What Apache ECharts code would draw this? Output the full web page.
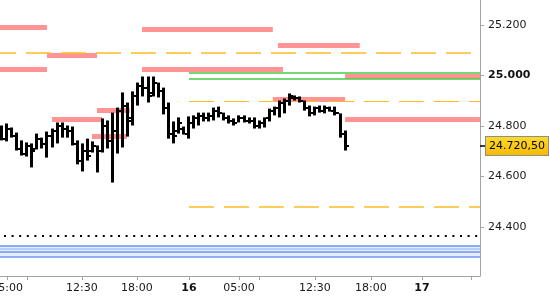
<!DOCTYPE html>
<html><head><meta charset="utf-8">
<script src="https://cdn.jsdelivr.net/npm/echarts@6/dist/echarts.min.js"></script>
<style>html,body{margin:0;padding:0;background:#fff}#c{width:550px;height:300px}</style>
</head><body><div id="c"></div>
<script>
// ---- data ----
const opens  = [24780,24750,24790,24760,24710,24690,24720,24710,24750,24730,24760,24780,24800,24790,24780,24730,24660,24700,24700,24720,24700,24800,24740,24780,24860,24880,24830,24920,24960,24950,24930,24970,24940,24870,24770,24780,24790,24770,24810,24830,24840,24830,24840,24860,24850,24830,24820,24810,24830,24820,24820,24800,24810,24830,24860,24870,24890,24900,24910,24910,24900,24870,24850,24870,24860,24870,24860,24850,24770];
const highs  = [24802,24810,24794,24774,24743,24735,24731,24770,24754,24778,24790,24814,24814,24802,24798,24743,24731,24750,24739,24723,24830,24822,24853,24873,24933,24893,24937,24972,24996,24996,24996,24972,24952,24893,24818,24834,24798,24838,24842,24853,24853,24853,24873,24877,24853,24842,24830,24842,24842,24834,24834,24822,24834,24869,24877,24901,24909,24929,24921,24917,24901,24881,24877,24881,24881,24877,24877,24850,24782];
const lows   = [24743,24739,24754,24703,24683,24679,24636,24707,24711,24675,24715,24731,24754,24754,24723,24648,24620,24663,24695,24616,24695,24711,24576,24691,24715,24758,24802,24881,24917,24893,24917,24913,24846,24750,24731,24770,24766,24750,24790,24802,24818,24818,24822,24834,24822,24810,24802,24814,24814,24810,24790,24790,24794,24818,24842,24834,24850,24881,24901,24893,24861,24838,24842,24853,24850,24857,24842,24754,24703];
const closes = [24750,24790,24760,24710,24690,24720,24700,24750,24730,24760,24780,24800,24790,24780,24730,24660,24700,24680,24720,24700,24800,24740,24780,24860,24880,24820,24920,24960,24950,24920,24970,24940,24870,24770,24760,24810,24770,24810,24830,24840,24830,24840,24860,24850,24830,24820,24810,24830,24820,24820,24800,24810,24830,24860,24870,24890,24900,24920,24910,24900,24870,24850,24870,24860,24870,24860,24850,24770,24720.5];
const lastPrice = 24720.5;

const xTickPos    = [1.2, 5.1, 16, 26.9, 37.2, 47.1, 51.1, 62.1, 73.2, 83.3, 93.0];
const xTickLabels = ['05:00', '', '12:30', '18:00', '16', '05:00', '', '12:30', '18:00', '17', ''];
const boldXLabels = ['16', '17'];
const yTickValues = [24400, 24600, 24800, 25000, 25200];
const boldYValue  = 25000;

// [price, fromSlot, toSlot]
const pinkLevels = [
  [25193, -0.2, 9.1], [25026, -0.2, 9.1], [25079, 9.1, 19.0],
  [25182, 27.9, 53.8], [25025, 27.9, 55.8], [25121, 54.8, 71.0],
  [24998, 68.1, 94.8], [24907, 53.8, 68.1], [24826, 68.1, 94.8],
  [24826, 10.1, 20.0], [24862, 19.0, 25.5], [24758, 18.0, 24.9]
];
const orangeLevels = [[25090, -0.2, 94.8], [24897, 37.2, 94.8], [24480, 37.2, 94.8]];
const greenLevels  = [[25012, 37.2, 94.8], [24987, 37.2, 94.8]];
const dottedLevels = [[24364, -0.2, 94.8]];
const blueLevels   = [24327, 24315, 24303, 24283];
const blueBand     = [24283, 24327];

// ---- helpers ----
const FONT = 'DejaVu Sans';
function de(v, dec) {
  const s = v.toFixed(dec);
  let [i, f] = s.split('.');
  i = i.replace(/\B(?=(\d{3})+(?!\d))/g, '.');
  return f ? i + ',' + f : i;
}
const X_MIN = -0.2, X_MAX = 94.8;

function segs(levels) {
  return levels.map(l => [{coord: [l[1], l[0]]}, {coord: [l[2], l[0]]}]);
}
function mlSeries(data, lineStyle, z) {
  return {
    type: 'line', data: [], z: z, silent: true, animation: false,
    markLine: {silent: true, animation: false, symbol: ['none', 'none'],
      label: {show: false}, emphasis: {disabled: true}, lineStyle: lineStyle, data: data}
  };
}

const ohlc = opens.map((o, i) => [i, o, highs[i], lows[i], closes[i]]);

const orangeData = segs(orangeLevels);
orangeData[0][0].lineStyle = {dashOffset: 9};
orangeData[1][0].lineStyle = {width: 1};

const blueLineData = blueLevels.map((p, k) => [
  {coord: [X_MIN, p], lineStyle: {color: k === 1 ? '#A9C2F7' : '#6B96EE'}},
  {coord: [X_MAX, p]}
]);

const chart = echarts.init(document.getElementById('c'), null, {renderer: 'canvas'});
chart.setOption({
  animation: false,
  backgroundColor: '#fff',
  grid: {left: 0, right: 70, top: 0, bottom: 24, containLabel: false, outerBoundsMode: 'none'},
  xAxis: {
    type: 'value', min: X_MIN, max: X_MAX,
    splitLine: {show: false},
    axisLine: {onZero: false, lineStyle: {color: '#A4A4A4', width: 1}},
    axisTick: {customValues: xTickPos, length: 4, lineStyle: {color: '#A4A4A4'}},
    axisLabel: {
      customValues: xTickPos.filter((p, k) => xTickLabels[k] !== ''),
      margin: 7, color: '#1a1a1a', fontFamily: FONT, fontSize: 11,
      formatter: v => {
        let k = 0, best = 1e9;
        xTickPos.forEach((p, j) => { if (Math.abs(p - v) < best) { best = Math.abs(p - v); k = j; } });
        const t = xTickLabels[k];
        return boldXLabels.includes(t) ? '{b|' + t + '}' : t;
      },
      rich: {b: {fontWeight: 'bold', fontFamily: FONT, fontSize: 11, color: '#111'}}
    }
  },
  yAxis: [{
    type: 'value', position: 'right', offset: 0, min: 24206, max: 25299,
    splitLine: {show: false},
    axisLine: {show: true, onZero: false, lineStyle: {color: '#A4A4A4', width: 1}},
    axisTick: {show: true, customValues: yTickValues, length: 4, lineStyle: {color: '#A4A4A4'}},
    axisLabel: {
      customValues: yTickValues, margin: 8, color: '#1a1a1a', fontFamily: FONT, fontSize: 11,
      formatter: v => v === boldYValue ? '{b|' + de(v, 0) + '}' : de(v, 0),
      rich: {b: {fontWeight: 'bold', fontFamily: FONT, fontSize: 11, color: '#111'}}
    }
  }, {
    type: 'value', position: 'right', offset: 0, min: 24206, max: 25299,
    splitLine: {show: false},
    axisLine: {show: false, onZero: false},
    axisLabel: {show: false},
    axisTick: {show: true, customValues: [lastPrice], length: 6, lineStyle: {color: '#000', width: 1.5}}
  }],
  series: [
    {
      type: 'line', data: [], z: 1, silent: true,
      markArea: {silent: true, itemStyle: {color: '#E3EBFD'},
        data: [[{coord: [X_MIN, blueBand[0]]}, {coord: [X_MAX, blueBand[1]]}]]}
    },
    mlSeries(blueLineData, {type: 'solid', width: 1.5}, 1),
    mlSeries(segs(dottedLevels), {color: '#000', width: 2, type: [2, 5.6], dashOffset: 3.6}, 2),
    mlSeries(segs(pinkLevels), {color: '#FF9494', width: 5, type: 'solid'}, 3),
    mlSeries(orangeData, {color: '#FFBA26', width: 1.5, type: [25, 10]}, 4),
    mlSeries(segs(greenLevels), {color: '#44CC44', width: 1.5, type: 'solid'}, 4),
    {
      type: 'custom', z: 6, silent: true,
      data: ohlc,
      encode: {x: 0, y: [2, 3]},
      renderItem: (params, api) => {
        const i = api.value(0);
        const o = api.coord([i, api.value(1)]);
        const h = api.coord([i, api.value(2)]);
        const l = api.coord([i, api.value(3)]);
        const c = api.coord([i, api.value(4)]);
        const cx = Math.round(h[0]);
        return {type: 'group', children: [
          {type: 'rect', shape: {x: cx - 1, y: h[1], width: 3, height: Math.max(1, l[1] - h[1])}, style: {fill: '#000'}},
          {type: 'rect', shape: {x: cx - 3, y: Math.round(o[1]) - 1, width: 2, height: 2}, style: {fill: '#000'}},
          {type: 'rect', shape: {x: cx + 2, y: Math.round(c[1]) - 1, width: 2, height: 2}, style: {fill: '#000'}}
        ]};
      }
    },
    {
      type: 'line', data: [], z: 7, silent: true,
      markLine: {
        silent: true, symbol: ['none', 'none'],
        lineStyle: {color: 'rgba(0,0,0,0)', width: 0},
        data: [{yAxis: lastPrice}],
        label: {
          show: true, position: 'end', distance: 6,
          formatter: de(lastPrice, 2),
          color: '#000', fontFamily: FONT, fontSize: 11,
          backgroundColor: new echarts.graphic.LinearGradient(0, 0, 0, 1, [
            {offset: 0, color: '#FFDC2E'}, {offset: 1, color: '#F5B800'}]),
          borderColor: '#8E8E8E', borderWidth: 1,
          padding: [4, 3, 3, 3]
        }
      }
    }
  ]
});
</script></body></html>
